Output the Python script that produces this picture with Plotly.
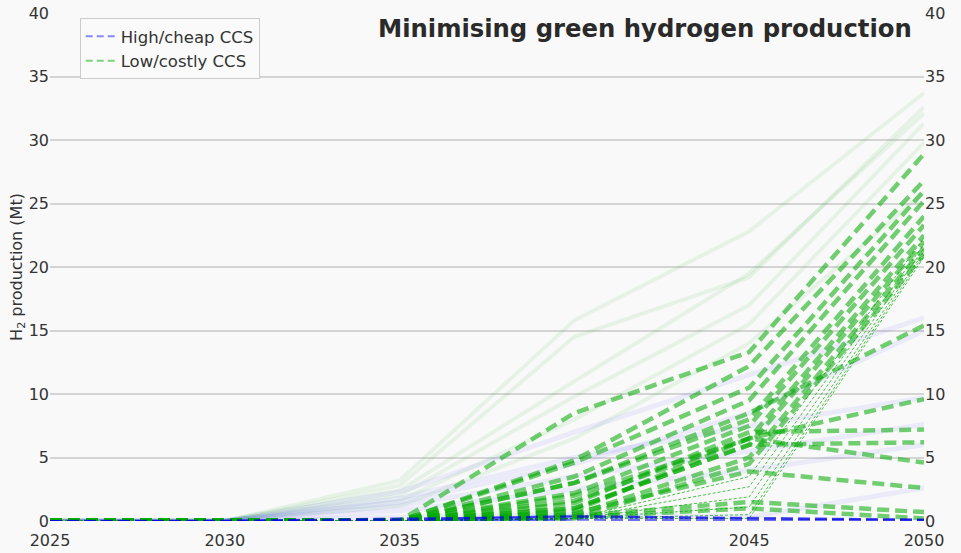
import plotly.graph_objects as go

years = [2025, 2030, 2035, 2040, 2045, 2050]

# Faint green solid lines
faint_green = [
    [0, 0, 3.2, 15.8, 22.8, 33.7],
    [0, 0, 2.8, 14.5, 19.2, 32.6],
    [0, 0, 2.4, 11.0, 19.5, 32.1],
    [0, 0, 2.0, 9.8, 17.0, 31.3],
    [0, 0, 1.6, 8.0, 15.5, 29.8],
    [0, 0, 1.2, 6.5, 14.0, 25.9],
]

# Faint blue (lavender) solid lines
faint_blue = [
    [0, 0, 2.3, 7.0, 11.5, 16.0],
    [0, 0, 1.5, 4.5, 8.5, 15.0],
    [0, 0, 1.8, 5.0, 7.5, 9.7],
    [0, 0, 1.2, 3.5, 5.5, 7.6],
    [0, 0, 0.8, 2.5, 4.0, 6.0],
    [0, 0, 0.3, 0.5, 0.3, 2.6],
]

# Low/costly CCS: thick dashed green
low_ccs = [
    [0, 0, 0, 8.5, 13.3, 28.9],
    [0, 0, 0, 4.8, 12.2, 26.8],
    [0, 0, 0, 4.6, 10.5, 26.0],
    [0, 0, 0, 3.5, 9.5, 25.2],
    [0, 0, 0, 3.0, 8.0, 24.0],
    [0, 0, 0, 2.2, 7.5, 23.3],
    [0, 0, 0, 1.6, 6.5, 22.5],
    [0, 0, 0, 1.0, 6.0, 22.0],
    [0, 0, 0, 0.5, 5.0, 21.5],
    [0, 0, 0, 0.2, 4.5, 21.0],
    [0, 0, 0, 3.0, 8.5, 15.4],
    [0, 0, 0, 2.0, 6.5, 9.6],
    [0, 0, 0, 1.4, 7.0, 7.2],
    [0, 0, 0, 1.0, 6.0, 6.2],
    [0, 0, 0, 0.8, 6.5, 4.6],
    [0, 0, 0, 0.6, 3.9, 2.6],
    [0, 0, 0, 0.4, 1.5, 0.7],
    [0, 0, 0, 0.3, 1.0, 0.2],
]

# Low/costly CCS: thin dotted green
low_ccs_thin = [
    [0, 0, 0, 0.2, 3.5, 22.3],
    [0, 0, 0, 0.2, 2.7, 21.8],
    [0, 0, 0, 0.2, 1.9, 21.5],
    [0, 0, 0, 0.2, 1.1, 21.2],
    [0, 0, 0, 0.2, 0.5, 21.0],
    [0, 0, 0, 0.2, 0.2, 20.8],
]

# High/cheap CCS: blue near zero
high_ccs = [
    [0, 0, 0.1, 0.4, 0.2, 0.1],
    [0, 0, 0.2, 0.3, 0.25, 0.1],
    [0, 0, 0.05, 0.1, 0.1, 0.05],
]

y_ticks = [0, 5, 10, 15, 20, 25, 30, 35, 40]
x_ticks = [2025, 2030, 2035, 2040, 2045, 2050]

fig = go.Figure()

for s in faint_green:
    fig.add_trace(go.Scatter(x=years, y=s, mode="lines", showlegend=False, hoverinfo="skip",
                             line=dict(color="rgba(0,160,0,0.07)", width=4)))
for s in faint_blue:
    fig.add_trace(go.Scatter(x=years, y=s, mode="lines", showlegend=False, hoverinfo="skip",
                             line=dict(color="rgba(90,90,255,0.09)", width=5)))
for s in low_ccs_thin:
    fig.add_trace(go.Scatter(x=years, y=s, mode="lines", showlegend=False, hoverinfo="skip",
                             line=dict(color="rgba(0,170,0,0.7)", width=1, dash="3px,2px")))
for s in low_ccs:
    fig.add_trace(go.Scatter(x=years, y=s, mode="lines", showlegend=False, hoverinfo="skip",
                             line=dict(color="rgba(0,170,0,0.55)", width=4.5, dash="12px,6px")))
for s in high_ccs:
    fig.add_trace(go.Scatter(x=years, y=s, mode="lines", showlegend=False, hoverinfo="skip",
                             line=dict(color="rgba(0,0,230,0.55)", width=2.2, dash="12px,5px")))

# legend entries
fig.add_trace(go.Scatter(x=[None], y=[None], mode="lines", name="High/cheap CCS",
                         line=dict(color="rgba(60,60,255,0.6)", width=2, dash="7px,4px")))
fig.add_trace(go.Scatter(x=[None], y=[None], mode="lines", name="Low/costly CCS",
                         line=dict(color="rgba(0,170,0,0.5)", width=2, dash="7px,4px")))
# invisible trace on right axis
fig.add_trace(go.Scatter(x=[2025], y=[0], yaxis="y2", mode="markers", showlegend=False,
                         marker=dict(opacity=0), hoverinfo="skip"))

font_family = "DejaVu Sans"
fig.update_layout(
    width=961, height=553,
    margin=dict(l=50, r=37, t=13, b=32, autoexpand=False),
    paper_bgcolor="#f9f9f9", plot_bgcolor="#f9f9f9",
    font=dict(family=font_family, size=16, color="#333333"),
    xaxis=dict(range=[2025, 2050], tickvals=x_ticks, showgrid=False, zeroline=False,
               showline=False, ticks="outside", ticklen=5, tickcolor="rgba(0,0,0,0)",
               tickfont=dict(size=16), automargin=False),
    yaxis=dict(range=[0, 40], tickvals=y_ticks, showgrid=True, gridcolor="#d4d4d4", gridwidth=1.5,
               zeroline=False, showline=False, ticks="", tickfont=dict(size=16), automargin=False,
               title=dict(text="H<sub>2</sub> production (Mt)", font=dict(size=16), standoff=2)),
    yaxis2=dict(range=[0, 40], tickvals=y_ticks, overlaying="y", side="right", showgrid=False,
                zeroline=False, showline=False, ticks="", tickfont=dict(size=16), automargin=False),
    legend=dict(x=0.034, y=0.99, xanchor="left", yanchor="top", bgcolor="#fafafa",
                bordercolor="#cccccc", borderwidth=1, font=dict(size=16.5)),
    annotations=[dict(text="<b>Minimising green hydrogen production</b>", xref="paper", yref="paper",
                      x=0.988, y=0.97, xanchor="right", yanchor="middle", showarrow=False,
                      font=dict(size=24.3, color="#2a2a2a", family=font_family))],
)

fig.write_html("out.html", config={"displayModeBar": False},
               post_script="document.body.style.margin='0';document.body.style.background='#f9f9f9';")
